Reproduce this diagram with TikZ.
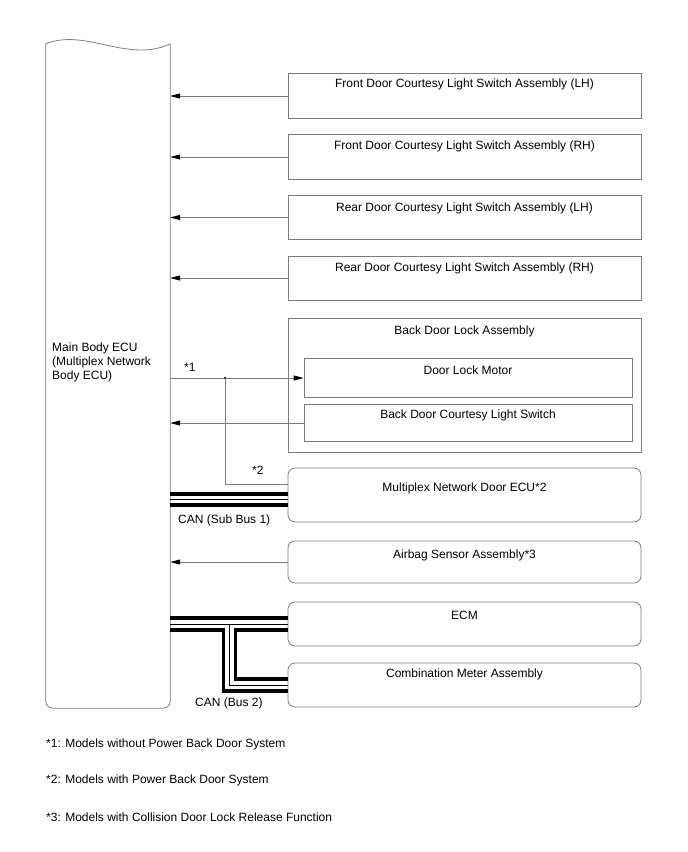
\documentclass[tikz,border=0pt]{standalone}
\usepackage{fontspec}
\setmainfont{Liberation Sans}
\usetikzlibrary{arrows.meta,positioning}
\definecolor{wire}{RGB}{125,125,125}

\begin{document}
\begin{tikzpicture}[x=1pt,y=-1pt,font=\fontsize{12}{13.8}\selectfont]
      \tikzstyle{box}=[draw=wire,line width=0.8pt,minimum width=353pt,inner sep=0pt]
      \tikzstyle{rbox}=[box,rounded corners=7pt]
      \tikzstyle{part}=[draw=wire,line width=0.8pt,minimum width=328pt,inner sep=0pt]
      \tikzstyle{boxtext}=[inner sep=0pt,anchor=north]
      \tikzstyle{note}=[inner sep=0pt,anchor=base west]
      \tikzstyle{sig}=[draw=wire,line width=0.8pt,-{Triangle[length=10pt,width=5pt,color=black]}]
      \tikzstyle{wireln}=[draw=wire,line width=0.8pt]
      \tikzstyle{bus}=[line width=3.2pt]
      \tikzstyle{busmid}=[line width=0.8pt]
      \useasboundingbox (0,0) rectangle (688,852);
      % main body ECU
      \node[minimum width=124pt,minimum height=664pt,inner sep=0pt] (ecu) at (108,376) {};
      \draw[wireln,rounded corners=7pt] (ecu.north west) -- (ecu.south west) -- (ecu.south east) -- (ecu.north east);
      \draw[wireln] (ecu.north west) .. controls +(40,-16) and +(-42,20) .. (ecu.north east);
      \node[inner sep=0pt,anchor=north west,align=left] (ecu-t) at (52,343) {Main Body ECU\\(Multiplex Network\\Body ECU)};
      % courtesy switches
      \node[box,minimum height=45pt] (fl) at (464.5,96) {};
      \node[boxtext,below=6pt of fl.north] (fl-t) {Front Door Courtesy Light Switch Assembly (LH)};
      \node[box,minimum height=45pt] (fr) at (464.5,157) {};
      \node[boxtext,below=6.5pt of fr.north] (fr-t) {Front Door Courtesy Light Switch Assembly (RH)};
      \node[box,minimum height=44pt] (rl) at (464.5,217.5) {};
      \node[boxtext,below=7pt of rl.north] (rl-t) {Rear Door Courtesy Light Switch Assembly (LH)};
      \node[box,minimum height=44pt] (rr) at (464.5,278) {};
      \node[boxtext,below=7pt of rr.north] (rr-t) {Rear Door Courtesy Light Switch Assembly (RH)};
      % back door lock
      \node[box,minimum height=134pt] (bdl) at (464.5,385) {};
      \node[boxtext,below=7.5pt of bdl.north] (bdl-t) {Back Door Lock Assembly};
      \node[part,minimum height=39pt] (dlm) at (468,378) {};
      \node[boxtext,below=7.5pt of dlm.north] (dlm-t) {Door Lock Motor};
      \node[part,minimum height=37pt] (bdsw) at (468,423) {};
      \node[boxtext,below=5.5pt of bdsw.north] (bdsw-t) {Back Door Courtesy Light Switch};
      % other ECUs
      \node[rbox,minimum height=54pt] (mpx) at (464.5,495) {};
      \node[boxtext,below=15pt of mpx.north] (mpx-t) {Multiplex Network Door ECU*2};
      \node[rbox,minimum height=42pt] (air) at (464.5,562) {};
      \node[boxtext,below=9pt of air.north] (air-t) {Airbag Sensor Assembly*3};
      \node[rbox,minimum height=44pt] (ecm) at (464.5,624) {};
      \node[boxtext,below=9.5pt of ecm.north] (ecm-t) {ECM};
      \node[rbox,minimum height=44pt] (meter) at (464.5,685) {};
      \node[boxtext,below=6pt of meter.north] (meter-t) {Combination Meter Assembly};
      % signal lines
      \draw[sig] (fl.west) -- (fl.west -| ecu.east);
      \draw[sig] (fr.west) -- (fr.west -| ecu.east);
      \draw[sig] (rl.west) -- (rl.west -| ecu.east);
      \draw[sig] (rr.west) -- (rr.west -| ecu.east);
      \draw[sig] (dlm.west -| ecu.east) -- (dlm.west);
      \draw[sig] (bdsw.west) -- (bdsw.west -| ecu.east);
      \draw[sig] (air.west) -- (air.west -| ecu.east);
      \path (dlm.west -| ecu.east) ++(55,0) coordinate (j);
      \fill (j) circle[radius=1.3pt];
      \draw[wireln] (j) |- ([yshift=11pt]mpx.west);
      \node[note] (n1) at (184,371) {*1};
      \node[note] (n2) at (252,474) {*2};
      % CAN sub bus 1
      \draw[bus] ([yshift=1pt]mpx.west) -- ([yshift=1pt]mpx.west -| ecu.east);
      \draw[busmid] ([yshift=-4pt]mpx.west) -- ([yshift=-4pt]mpx.west -| ecu.east);
      \draw[bus] ([yshift=-10pt]mpx.west) -- ([yshift=-10pt]mpx.west -| ecu.east);
      \node[note] (sub1) at (178,523) {CAN (Sub Bus 1)};
      % CAN bus 2
      \path (ecm.west -| ecu.east) ++(59,0) coordinate (tee);
      \draw[bus] ([yshift=6pt]ecm.west) -- ([yshift=6pt]ecm.west -| ecu.east);
      \draw[busmid] (ecm.west) -- (ecm.west -| ecu.east);
      \draw[busmid] (tee) |- (meter.west);
      \draw[bus] ([yshift=-6pt]ecm.west -| ecu.east) -| ([xshift=-6pt,yshift=-6pt]tee |- meter.west) -- ([yshift=-6pt]meter.west);
      \draw[bus] ([yshift=-6pt]ecm.west) -| ([xshift=6pt,yshift=6pt]tee |- meter.west) -- ([yshift=6pt]meter.west);
      \node[note] (bus2) at (195,706.5) {CAN (Bus 2)};
      % footnotes
      \node[note] (f1) at (46,747) {*1: Models without Power Back Door System};
      \node[note] (f2) at (46,783) {*2: Models with Power Back Door System};
      \node[note] (f3) at (46,821) {*3: Models with Collision Door Lock Release Function};
    \end{tikzpicture}
\end{document}
